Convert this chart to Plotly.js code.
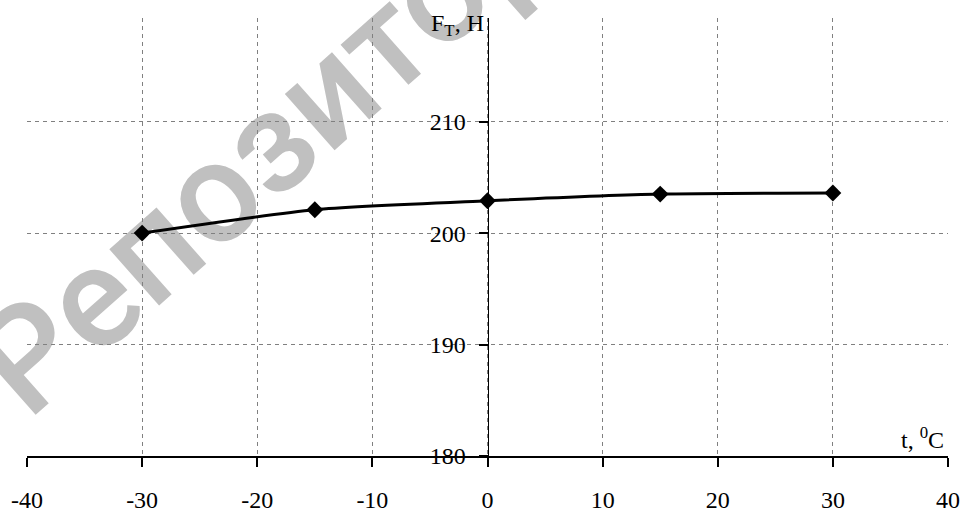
<!DOCTYPE html>
<html>
<head>
<meta charset="utf-8">
<script src="https://cdn.plot.ly/plotly-3.0.1.min.js"></script>
<style>html,body{margin:0;padding:0;background:#fff;}#chart{width:964px;height:513px;}</style>
</head>
<body>
<div id="chart"></div>
<script>
var temperature = [-30, -15, 0, 15, 30];
var force = [200, 202.1, 202.9, 203.5, 203.6];
var xTicks = [-40, -30, -20, -10, 0, 10, 20, 30, 40];
var yTicks = [180, 190, 200, 210];
var xTitle = 't, <sup>0</sup>C';
var yTitle = 'F<sub>T</sub>, H';
var watermark = 'Репозиторий БГТУ';

var font = {family: 'Liberation Serif, Times New Roman, serif', size: 24, color: '#000'};

var trace = {
  x: temperature, y: force, type: 'scatter', mode: 'lines+markers',
  line: {color: '#000', width: 3, shape: 'spline', smoothing: 0.6},
  marker: {symbol: 'diamond', size: 13, color: '#000'},
  hoverinfo: 'skip'
};

var cx = 0.468, cy = 1.126;
var layout = {
  width: 964, height: 513,
  margin: {l: 27, r: 16, t: 18, b: 57},
  paper_bgcolor: '#fff', plot_bgcolor: 'rgba(0,0,0,0)',
  showlegend: false,
  font: font,
  xaxis: {
    range: [-40, 40], tickvals: xTicks, ticktext: xTicks.map(String),
    showgrid: true, gridcolor: '#808080', gridwidth: 1, griddash: '4px,4px',
    zeroline: false, showline: true, linecolor: '#000', linewidth: 2,
    ticks: 'outside', ticklen: 9, tickwidth: 2, tickcolor: '#000',
    ticklabelstandoff: 12, tickfont: font
  },
  yaxis: {
    range: [180, 219.3], tickvals: yTicks, ticktext: yTicks.map(String),
    anchor: 'free', position: 0.5, side: 'left',
    showgrid: true, gridcolor: '#808080', gridwidth: 1, griddash: '4px,4px',
    zeroline: false, showline: true, linecolor: '#000', linewidth: 1.5,
    ticks: 'outside', ticklen: 9, tickwidth: 2, tickcolor: '#000',
    ticklabelstandoff: 8, tickfont: font
  },
  shapes: [
    {type: 'line', xref: 'paper', yref: 'paper', layer: 'below',
     x0: cx - 0.01, y0: cy - 0.0194, x1: cx + 0.01, y1: cy + 0.0194,
     line: {width: 0, color: 'rgba(0,0,0,0)'},
     label: {text: watermark, textposition: 'middle', textangle: -41.5,
             xanchor: 'center', yanchor: 'middle', padding: 0,
             font: {family: 'Roboto, Liberation Sans, Arial, sans-serif', size: 142, weight: 500, color: 'rgb(192,192,192)'}}}
  ],
  annotations: [
    {text: yTitle, xref: 'x', x: 0, xanchor: 'right', xshift: -2,
     yref: 'paper', y: 1, yanchor: 'middle', yshift: -7, showarrow: false, font: font},
    {text: xTitle, xref: 'paper', x: 1, xanchor: 'right', xshift: -2,
     yref: 'y', y: 180, yanchor: 'bottom', yshift: 1, showarrow: false, font: font}
  ]
};

Plotly.newPlot('chart', [trace], layout, {displayModeBar: false, staticPlot: true});
</script>
</body>
</html>
